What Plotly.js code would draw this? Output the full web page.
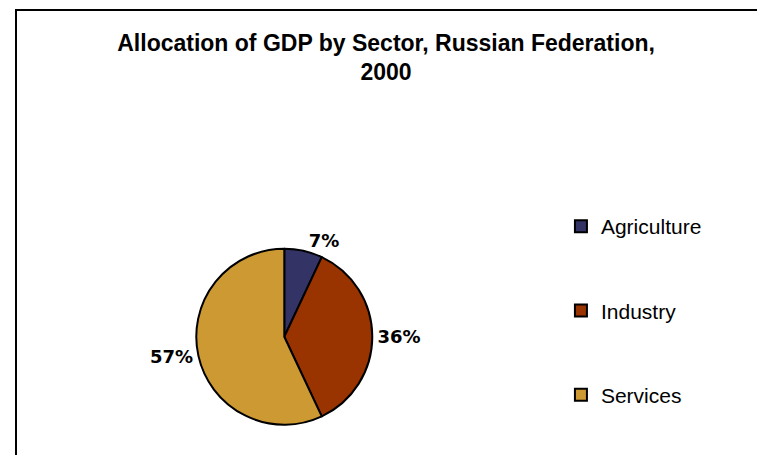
<!DOCTYPE html>
<html>
<head>
<meta charset="utf-8">
<script src="https://cdn.plot.ly/plotly-3.0.1.min.js"></script>
<style>html,body{margin:0;padding:0;background:#fff}#chart{width:757px;height:455px}</style>
</head>
<body>
<div id="chart"></div>
<script>
const sectors = ["Agriculture", "Industry", "Services"];
const shares = [7, 36, 57];
const sectorColors = ["#333366", "#993300", "#CC9933"];
const chartTitle = "Allocation of GDP by Sector, Russian Federation,<br>2000";

const traces = [{
  type: "pie",
  labels: sectors,
  values: shares,
  sort: false,
  direction: "clockwise",
  rotation: 0,
  marker: {colors: sectorColors, line: {color: "#000000", width: 2}},
  textinfo: "percent",
  textposition: "outside",
  textfont: {family: "DejaVu Sans", size: 18, color: "#000000", weight: "bold"},
  domain: {x: [0.2593, 0.4918], y: [0.0666, 0.4534]},
  showlegend: false,
  hoverinfo: "label+percent"
}];

sectors.forEach((s, i) => {
  traces.push({
    type: "scatter",
    mode: "markers",
    x: [null], y: [null],
    name: s,
    legendgroup: s,
    marker: {symbol: "square", size: 12, color: sectorColors[i], line: {color: "#000000", width: 2}},
    showlegend: true,
    hoverinfo: "skip"
  });
});

const layout = {
  width: 757, height: 455,
  margin: {l: 0, r: 0, t: 0, b: 0},
  paper_bgcolor: "#ffffff",
  plot_bgcolor: "rgba(0,0,0,0)",
  title: {
    text: chartTitle,
    font: {family: "Liberation Sans", size: 23, color: "#000000", weight: "bold"},
    x: 0.51, xanchor: "center",
    y: 0.889, yanchor: "top"
  },
  xaxis: {visible: false, domain: [0.9, 0.91]},
  yaxis: {visible: false, domain: [0.9, 0.91]},
  legend: {
    x: 0.741, xanchor: "left",
    y: 0.547, yanchor: "top",
    font: {family: "Liberation Sans", size: 21, color: "#000000"},
    tracegroupgap: 54,
    itemsizing: "constant",
    bgcolor: "rgba(0,0,0,0)"
  },
  shapes: [{
    type: "rect", xref: "paper", yref: "paper",
    x0: 16/757, x1: 1.02, y0: -0.02, y1: 1 - 10/455,
    line: {color: "#000000", width: 2}
  }]
};

Plotly.newPlot("chart", traces, layout, {displayModeBar: false, staticPlot: true});
</script>
</body>
</html>
